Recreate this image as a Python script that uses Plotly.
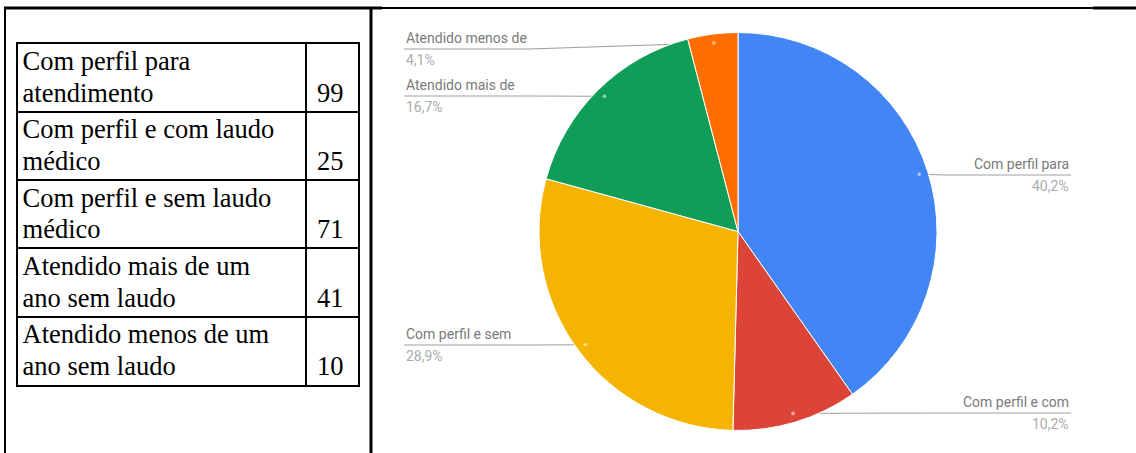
import textwrap
import math
import plotly.graph_objects as go

# ---- data ----
categories = [
    "Com perfil para atendimento",
    "Com perfil e com laudo médico",
    "Com perfil e sem laudo médico",
    "Atendido mais de um ano sem laudo",
    "Atendido menos de um ano sem laudo",
]
values = [99, 25, 71, 41, 10]
colors = ["#4285F4", "#DB4437", "#F4B400", "#0F9D58", "#FF6D01"]

W, H = 1136, 453


def px(x):
    return x / W


def py(y):
    return 1 - y / H


# ---- layout constants (pixels) ----
CX, CY, R = 738, 231.5, 199
DOT_FRAC = 0.955
LABEL_LEFT_X, LABEL_RIGHT_X = 404, 1071
LABEL_LINE_Y = [175, 413, 345, 96, 49]
KNEE = 125

# table geometry
TB_L, TB_R, TB_T, TB_B = 17.5, 358, 43.5, 385
COL_SPLIT = (306 - TB_L) / (TB_R - TB_L)
LINE_OFF = [0.29, 0.755]
TEXT_X = 0.015
SERIF = "Liberation Serif"
TABLE_FS = 26.5

total = sum(values)
n = len(values)

fig = go.Figure()

# ---- table drawn on its own axes ----
lx, ly_, lt = [], [], []
for i, c in enumerate(categories):
    for j, line in enumerate(textwrap.wrap(c, 22)):
        lx.append(TEXT_X)
        ly_.append(i + LINE_OFF[j])
        lt.append(line)
fig.add_trace(go.Scatter(
    x=lx, y=ly_, text=lt, mode="text", textposition="middle right",
    textfont=dict(family=SERIF, size=TABLE_FS, color="black"),
    hoverinfo="skip", showlegend=False, xaxis="x", yaxis="y", cliponaxis=False,
))
fig.add_trace(go.Scatter(
    x=[(COL_SPLIT + 1) / 2 - 0.005] * n, y=[i + LINE_OFF[1] for i in range(n)],
    text=[str(v) for v in values], mode="text", textposition="middle center",
    textfont=dict(family=SERIF, size=TABLE_FS, color="black"),
    hoverinfo="skip", showlegend=False, xaxis="x", yaxis="y", cliponaxis=False,
))

# ---- pie ----
fig.add_trace(go.Pie(
    labels=categories, values=values, sort=False, direction="clockwise",
    rotation=0, textinfo="none", hoverinfo="skip",
    marker=dict(colors=colors, line=dict(color="white", width=1)),
    domain=dict(x=[px(CX - R), px(CX + R)], y=[py(CY + R), py(CY - R)]),
    showlegend=False,
))

shapes = []
annotations = []
cum = 0
for i, (cat, v) in enumerate(zip(categories, values)):
    f = (cum + v / 2) / total
    cum += v
    th = 2 * math.pi * f
    dx = CX + DOT_FRAC * R * math.sin(th)
    dy = CY - DOT_FRAC * R * math.cos(th)
    ly = LABEL_LINE_Y[i]
    right = math.sin(th) > 0
    edge = LABEL_RIGHT_X if right else LABEL_LEFT_X
    knee = edge - KNEE if right else edge + KNEE
    path = f"M {px(edge)} {py(ly)} L {px(knee)} {py(ly)} L {px(dx)} {py(dy)}"
    shapes.append(dict(type="path", path=path, xref="paper", yref="paper",
                       line=dict(color="#9e9e9e", width=1), layer="below"))
    shapes.append(dict(type="circle", xref="paper", yref="paper",
                       x0=px(dx - 1.8), x1=px(dx + 1.8), y0=py(dy + 1.8), y1=py(dy - 1.8),
                       fillcolor="rgba(255,255,255,0.55)", line=dict(width=0), layer="above"))
    words = cat.split()
    short = words[0]
    for w_ in words[1:]:
        if len(short) + 1 + len(w_) <= 17:
            short += " " + w_
        else:
            break
    pct = f"{100 * v / total:.1f}%".replace(".", ",")
    xa = "right" if right else "left"
    annotations.append(dict(x=px(edge), y=py(ly - 1), xref="paper", yref="paper",
                            text=short, showarrow=False, xanchor=xa, yanchor="bottom",
                            font=dict(family="Roboto", size=14, color="#7a7a7a")))
    annotations.append(dict(x=px(edge), y=py(ly + 1), xref="paper", yref="paper",
                            text=pct, showarrow=False, xanchor=xa, yanchor="top",
                            font=dict(family="Roboto", size=14, color="#ababab")))

# frame lines
frame = [
    (4, 8, 382, 8, 3),
    (382, 8, 1093, 8, 2),
    (1093, 8, 1136, 8, 3),
    (5, 8, 5, 453, 2),
    (371, 8, 371, 453, 3),
]
for x0, y0, x1, y1, w in frame:
    shapes.append(dict(type="line", xref="paper", yref="paper",
                       x0=px(x0), y0=py(y0), x1=px(x1), y1=py(y1),
                       line=dict(color="black", width=w), layer="above"))

fig.update_layout(
    width=W, height=H, margin=dict(l=0, r=0, t=0, b=0),
    paper_bgcolor="white", plot_bgcolor="white",
    xaxis=dict(domain=[px(TB_L), px(TB_R)], range=[0, 1], tickvals=[COL_SPLIT],
               showgrid=True, gridcolor="black", gridwidth=2, showticklabels=False,
               ticks="", zeroline=False, showline=True, mirror=True,
               linecolor="black", linewidth=2, fixedrange=True),
    yaxis=dict(domain=[py(TB_B), py(TB_T)], range=[n, 0], tickvals=list(range(1, n)),
               showgrid=True, gridcolor="black", gridwidth=2, showticklabels=False,
               ticks="", zeroline=False, showline=True, mirror=True,
               linecolor="black", linewidth=2, fixedrange=True),
    shapes=shapes, annotations=annotations, showlegend=False,
)
fig.write_html("out.html")
